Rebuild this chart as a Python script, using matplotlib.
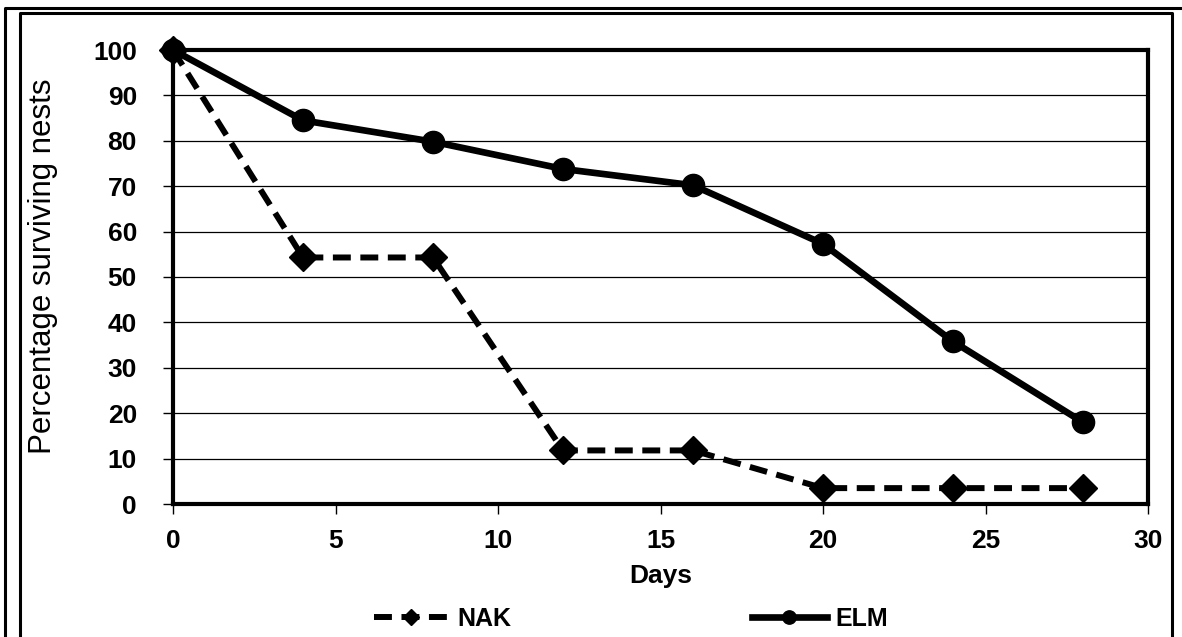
import matplotlib.pyplot as plt
from matplotlib.lines import Line2D

plt.rcParams["font.family"] = ["Liberation Sans", "DejaVu Sans"]

# nest survival data
days = [0, 4, 8, 12, 16, 20, 24, 28]
nak = [100, 54.3, 54.3, 11.8, 11.8, 3.5, 3.5, 3.5]
elm = [100, 84.5, 79.8, 73.8, 70.2, 57.3, 35.8, 18.0]

x_ticks = [0, 5, 10, 15, 20, 25, 30]
y_ticks = list(range(0, 101, 10))

W, H = 1182, 637
fig = plt.figure(figsize=(W / 100, H / 100), dpi=100)
ax = fig.add_axes([173 / W, 1 - 504 / H, (1148 - 173) / W, (504 - 50) / H])

# double frame around the figure
def fig_line(xs, ys, lw=2.2):
    fig.add_artist(Line2D([x / W for x in xs], [1 - y / H for y in ys],
                          color="black", lw=lw, transform=fig.transFigure))

fig_line([5, 5, W + 5], [H + 5, 8, 8])
fig_line([20, 20, 1172, 1172], [H + 5, 13, 13, H + 5])

ax.set_axisbelow(True)
ax.yaxis.grid(True, color="black", lw=0.9)

ax.plot(days, nak, color="black", lw=4.3, ls=(0, (3.0, 1.6)), marker="D",
        ms=14, label="NAK", clip_on=False, zorder=3)
ax.plot(days, elm, color="black", lw=4.8, marker="o", ms=16,
        label="ELM", clip_on=False, zorder=4)

ax.set_xlim(0, 30)
ax.set_ylim(0, 100)
ax.set_xticks(x_ticks)
ax.set_yticks(y_ticks)

for s in ax.spines.values():
    s.set_linewidth(3)
ax.tick_params(direction="out", length=7, width=1, labelsize=19)
ax.tick_params(axis="y", pad=19)
ax.tick_params(axis="x", pad=11)
for lbl in ax.get_xticklabels() + ax.get_yticklabels():
    lbl.set_fontweight("bold")

ax.set_xlabel("Days", fontsize=19, fontweight="bold", labelpad=8)
ax.set_ylabel("Percentage surviving nests", fontsize=22.5)
ax.yaxis.set_label_coords(-0.118, 0.524)

leg = fig.legend(loc="center", bbox_to_anchor=(631 / W, 1 - 619 / H), ncol=2,
                 frameon=False, handlelength=3.0, handletextpad=0.35,
                 columnspacing=9.6, markerscale=0.6,
                 prop={"weight": "bold", "size": 18})

fig.savefig("out.png", dpi=100)
